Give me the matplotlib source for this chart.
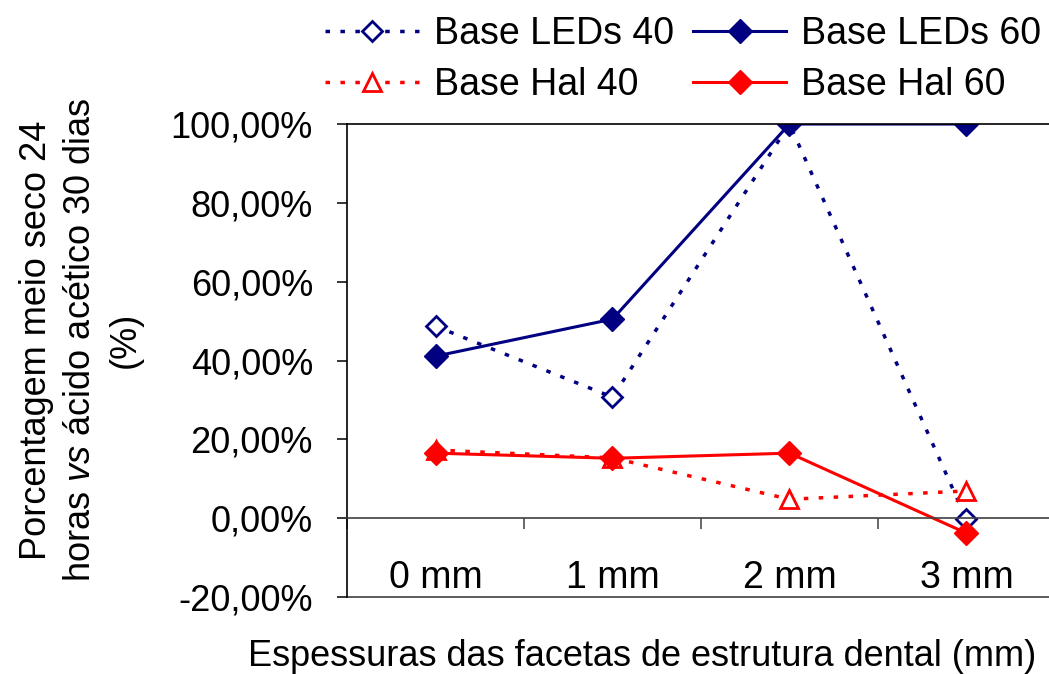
import numpy as np
from matplotlib import pyplot as plt
from matplotlib.ticker import FuncFormatter, FixedLocator

plt.rcParams['font.family'] = ['Liberation Sans', 'DejaVu Sans']
plt.rcParams['mathtext.fontset'] = 'custom'
plt.rcParams['mathtext.rm'] = 'Liberation Sans'
plt.rcParams['mathtext.it'] = 'Liberation Sans:italic'

categorias = ["0 mm", "1 mm", "2 mm", "3 mm"]
leds_40 = [48.7, 30.7, 100.0, -0.3]
leds_60 = [41.1, 50.5, 100.0, 100.0]
hal_40 = [17.3, 15.3, 4.8, 6.9]
hal_60 = [16.5, 15.2, 16.5, -3.8]

navy = "#000080"
red = "#FF0000"
dots = (0, (1.3, 3.0))

fig = plt.figure(figsize=(10.49, 6.74), dpi=100)
ax = fig.add_axes([0.3308, 0.1142, 0.6749, 0.7018])

x = np.arange(len(categorias))
l40, = ax.plot(x, leds_40, color=navy, ls=dots, lw=2.5, marker="D", ms=10,
               mfc="white", mec=navy, mew=2, label="Base LEDs 40")
l60, = ax.plot(x, leds_60, color=navy, ls="-", lw=2.2, marker="D", ms=12,
               mfc=navy, mec=navy, label="Base LEDs 60")
h40, = ax.plot(x, hal_40, color=red, ls=dots, lw=2.5, marker="^", ms=13,
               mfc="white", mec=red, mew=2, label="Base Hal 40")
h60, = ax.plot(x, hal_60, color=red, ls="-", lw=2.2, marker="D", ms=12,
               mfc=red, mec=red, label="Base Hal 60")

ax.set_xlim(-0.5, 3.5)
ax.set_ylim(-20, 100)
ax.set_yticks(np.arange(-20, 101, 20))
ax.yaxis.set_major_formatter(FuncFormatter(lambda v, p: f"{v:.2f}%".replace(".", ",")))

ax.set_xticks(x)
ax.set_xticklabels(categorias)
ax.xaxis.set_minor_locator(FixedLocator([-0.5, 0.5, 1.5, 2.5, 3.5]))
ax.tick_params(axis="x", which="major", length=0, pad=30, labelsize=27)
ax.tick_params(axis="x", which="minor", length=8, width=1.1, direction="out", color="#404040")
ax.tick_params(axis="y", length=7.5, width=1.1, pad=17, labelsize=26)

for s in ["left", "top", "bottom"]:
    ax.spines[s].set_linewidth(1.2)
    ax.spines[s].set_color("black")
ax.spines["right"].set_visible(False)
ax.spines["bottom"].set_position(("data", 0))
ax.spines["bottom"].set_color("#404040")
ax.axhline(-20, color="#404040", lw=1.2, clip_on=False)

fig.text(81 / 1049, 1 - 340 / 674,
         "Porcentagem meio seco 24\nhoras $\\mathit{vs}$ ácido acético 30 dias\n(%)",
         rotation=90, ha="center", va="center", fontsize=26, linespacing=1.36,
         multialignment="center")
fig.text(642 / 1049, 1 - 657 / 674, "Espessuras das facetas de estrutura dental (mm)",
         ha="center", va="center", fontsize=26)

leg = ax.legend(handles=[l40, h40, l60, h60], ncol=2, loc="upper left",
                bbox_to_anchor=(325 / 1049, 1 - 16 / 674),
                bbox_transform=fig.transFigure, frameon=False, fontsize=27,
                handlelength=2.5, handletextpad=0.4, columnspacing=0.5,
                labelspacing=0.4, borderpad=0, borderaxespad=0)

fig.savefig("out.png", dpi=100)
